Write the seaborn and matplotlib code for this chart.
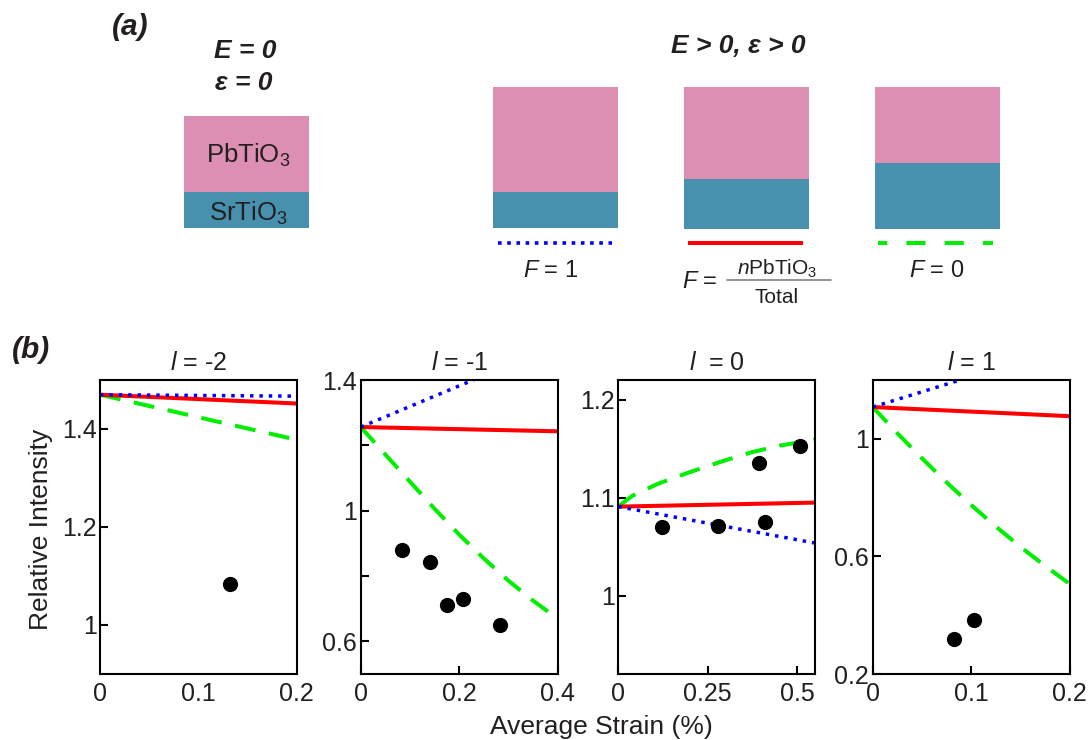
import matplotlib
matplotlib.use("Agg")
import matplotlib.pyplot as plt
import seaborn as sns

# ---------------- data ----------------
# (a) schematic: relative layer thicknesses of each superlattice sketch
sketch_names = ["E = 0", "F = 1", "F = nPbTiO3/Total", "F = 0"]
pto_thickness = [76.6, 105.3, 92.0, 76.0]
sto_thickness = [36.2, 36.2, 49.5, 65.5]

# (b) panel titles (l index)
panel_titles = [r"$\mathit{l}$ = -2", r"$\mathit{l}$ = -1",
                r"$\mathit{l}$  = 0", r"$\mathit{l}$ = 1"]

# l = -2
m2_f1_x = [0.0, 0.2]
m2_f1_y = [1.470, 1.467]
m2_fn_x = [0.0, 0.2]
m2_fn_y = [1.470, 1.452]
m2_f0_x = [0.0, 0.1, 0.2]
m2_f0_y = [1.470, 1.424, 1.378]
m2_obs_x = [0.132]
m2_obs_y = [1.083]

# l = -1
m1_f1_x = [0.0, 0.4]
m1_f1_y = [1.256, 1.508]
m1_fn_x = [0.0, 0.4]
m1_fn_y = [1.256, 1.243]
m1_f0_x = [0.0, 0.05, 0.1, 0.15, 0.2, 0.25, 0.3, 0.35, 0.4]
m1_f0_y = [1.256, 1.172, 1.089, 1.006, 0.927, 0.854, 0.786, 0.725, 0.670]
m1_obs_x = [0.083, 0.140, 0.175, 0.207, 0.283]
m1_obs_y = [0.880, 0.842, 0.712, 0.731, 0.649]

# l = 0
z_f1_x = [0.0, 0.55]
z_f1_y = [1.0908, 1.0536]
z_fn_x = [0.0, 0.55]
z_fn_y = [1.0908, 1.0949]
z_f0_x = [0.0, 0.04, 0.11, 0.2, 0.29, 0.37, 0.45, 0.55]
z_f0_y = [1.091, 1.102, 1.114, 1.126, 1.137, 1.146, 1.153, 1.159]
z_obs_x = [0.121, 0.280, 0.393, 0.410, 0.507]
z_obs_y = [1.0705, 1.0715, 1.135, 1.0746, 1.1526]

# l = 1
p1_f1_x = [0.0, 0.2]
p1_f1_y = [1.108, 1.315]
p1_fn_x = [0.0, 0.2]
p1_fn_y = [1.108, 1.077]
p1_f0_x = [0.0, 0.025, 0.05, 0.075, 0.1, 0.125, 0.15, 0.175, 0.2]
p1_f0_y = [1.108, 1.019, 0.934, 0.852, 0.775, 0.702, 0.633, 0.568, 0.507]
p1_obs_x = [0.083, 0.1034]
p1_obs_y = [0.318, 0.385]

# axis ranges and ticks
x_limits = [(0, 0.2), (0, 0.4), (0, 0.55), (0, 0.2)]
y_limits = [(0.9, 1.5), (0.5, 1.4), (0.92, 1.22), (0.2, 1.2)]
x_ticks = [[0, 0.1, 0.2], [0, 0.2, 0.4], [0, 0.25, 0.5], [0, 0.1, 0.2]]
x_tick_labels = [["0", "0.1", "0.2"], ["0", "0.2", "0.4"],
                 ["0", "0.25", "0.5"], ["0", "0.1", "0.2"]]
y_ticks = [[1.0, 1.2, 1.4], [0.6, 0.8, 1.0, 1.2, 1.4],
           [1.0, 1.1, 1.2], [0.2, 0.6, 1.0]]
y_tick_labels = [["1", "1.2", "1.4"], ["0.6", "", "1", "", "1.4"],
                 ["1", "1.1", "1.2"], ["0.2", "0.6", "1"]]

# ---------------- style ----------------
sns.set_style("white")
plt.rcParams["font.family"] = ["Liberation Sans", "DejaVu Sans"]
plt.rcParams["mathtext.fontset"] = "custom"
plt.rcParams["mathtext.rm"] = "Liberation Sans"
plt.rcParams["mathtext.it"] = "Liberation Sans:italic"
plt.rcParams["mathtext.bf"] = "Liberation Sans:bold"

PINK = "#DC8FB2"
TEAL = "#4791AE"
BLUE = "#0000FF"
RED = "#FF0000"
GREEN = "#00EE00"
TXT = "#231F20"

W, H = 1088, 740
fig = plt.figure(figsize=(W / 100, H / 100), dpi=100)

# ---------------- (a) schematic ----------------
ax0 = fig.add_axes([0, 1 - 320 / H, 1, 320 / H])
ax0.set_xlim(0, W)
ax0.set_ylim(320, 0)
ax0.axis("off")

centers = [246.8, 555.0, 746.5, 937.5]
base = 228.5
ax0.bar(centers, sto_thickness, width=125,
        bottom=[base - s for s in sto_thickness], color=TEAL, linewidth=0)
ax0.bar(centers, pto_thickness, width=125,
        bottom=[base - s - p for s, p in zip(sto_thickness, pto_thickness)],
        color=PINK, linewidth=0)

ax0.text(248, 163.3, r"PbTiO$_3$", ha="center", va="baseline", fontsize=18.5, color=TXT)
ax0.text(248, 220.7, r"SrTiO$_3$", ha="center", va="baseline", fontsize=18.5, color=TXT)

bi = dict(fontweight="bold", fontstyle="italic", color=TXT)
ax0.text(111.5, 35, "(a)", ha="left", va="baseline", fontsize=21.5, **bi)
ax0.text(245, 58.3, "E = 0", ha="center", va="baseline", fontsize=19, **bi)
ax0.text(243.3, 90.5, "\u03b5 = 0", ha="center", va="baseline", fontsize=19, **bi)
ax0.text(738, 53.3, "E > 0, \u03b5 > 0", ha="center", va="baseline", fontsize=19, **bi)

ly = 243.3
ax0.plot([497.7, 612], [ly, ly], color=BLUE, lw=2.6, linestyle=(0, (1, 1.55)))
ax0.plot([687.7, 802.7], [ly, ly], color=RED, lw=2.9, solid_capstyle="butt")
ax0.plot([878, 993], [ly, ly], color=GREEN, lw=2.9, linestyle=(2.45, (4.75, 4.75)))

ax0.text(550.8, 276.7, r"$\mathit{F}$ = 1", ha="center", va="baseline", fontsize=17, color=TXT)
ax0.text(936.5, 276.7, r"$\mathit{F}$ = 0", ha="center", va="baseline", fontsize=17, color=TXT)
ax0.text(700, 288.3, r"$\mathit{F}$ =", ha="center", va="baseline", fontsize=17, color=TXT)
ax0.plot([727, 831], [280, 280], color="#808080", lw=1.2)
ax0.text(777, 275, r"$\mathit{n}$PbTiO$_3$", ha="center", va="baseline", fontsize=15, color=TXT)
ax0.text(777, 302.7, "Total", ha="center", va="baseline", fontsize=15, color=TXT)

# ---------------- (b) plots ----------------
panels = [
    (m2_f1_x, m2_f1_y, m2_fn_x, m2_fn_y, m2_f0_x, m2_f0_y, m2_obs_x, m2_obs_y),
    (m1_f1_x, m1_f1_y, m1_fn_x, m1_fn_y, m1_f0_x, m1_f0_y, m1_obs_x, m1_obs_y),
    (z_f1_x, z_f1_y, z_fn_x, z_fn_y, z_f0_x, z_f0_y, z_obs_x, z_obs_y),
    (p1_f1_x, p1_f1_y, p1_fn_x, p1_fn_y, p1_f0_x, p1_f0_y, p1_obs_x, p1_obs_y),
]
lefts = [100, 360.7, 618.3, 872.7]
aw = 196.8
top, bottom = 380, 674

for i, (f1x, f1y, fnx, fny, f0x, f0y, ox, oy) in enumerate(panels):
    ax = fig.add_axes([lefts[i] / W, (H - bottom) / H, aw / W, (bottom - top) / H])
    sns.lineplot(x=f0x, y=f0y, ax=ax, color=GREEN, lw=2.9,
                 linestyle=(0, (5.2, 3.4)), estimator=None)
    sns.lineplot(x=fnx, y=fny, ax=ax, color=RED, lw=2.9, estimator=None)
    sns.lineplot(x=f1x, y=f1y, ax=ax, color=BLUE, lw=2.5,
                 linestyle=(0, (1, 1.7)), estimator=None)
    sns.scatterplot(x=ox, y=oy, ax=ax, color="black", s=120, linewidth=0, zorder=5)

    ax.set_xlim(*x_limits[i])
    ax.set_ylim(*y_limits[i])
    ax.set_xticks(x_ticks[i], x_tick_labels[i])
    ax.set_yticks(y_ticks[i], y_tick_labels[i])
    ax.set_xlabel("")
    ax.set_ylabel("")
    for sp in ax.spines.values():
        sp.set_visible(True)
        sp.set_color("black")
        sp.set_linewidth(1.5)
    ax.tick_params(axis="both", direction="in", length=5.5, width=1.5,
                   labelsize=18, colors="black", labelcolor=TXT,
                   left=True, bottom=True, top=False, right=False)
    ax.tick_params(axis="x", pad=6)
    ax.tick_params(axis="y", pad=2.5)
    if i == 0:
        ax.tick_params(axis="x", length=0)
    ax.set_title(panel_titles[i], fontsize=18, pad=7, color=TXT)

fig.text(12 / W, 1 - 358 / H, "(b)", ha="left", va="baseline", fontsize=21.5, **bi)
fig.text(41 / W, 1 - 529 / H, "Relative Intensity", rotation=90,
         ha="center", va="center", fontsize=19, color=TXT)
fig.text(601 / W, 1 - 734 / H, "Average Strain (%)", ha="center",
         va="baseline", fontsize=19, color=TXT)

fig.savefig("out.png", dpi=100)
